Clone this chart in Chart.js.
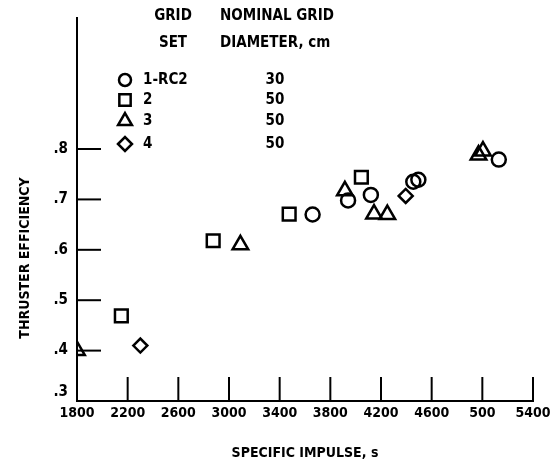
<!DOCTYPE html>
<html>
<head>
<meta charset="utf-8">
<script src="https://cdn.jsdelivr.net/npm/chart.js@4/dist/chart.umd.min.js"></script>
<style>
html, body { margin: 0; padding: 0; background: #fff; }
</style>
</head>
<body>
<canvas id="chart" width="560" height="462"></canvas>
<script>
// grid sets and their nominal diameter (cm)
const setNames = ['1-RC2', '2', '3', '4'];
const diameters = ['30', '50', '50', '50'];

// specific impulse (s) and thruster efficiency, one pair of arrays per grid set
const set1Isp = [3660, 3940, 4120, 4455, 4495, 5130];
const set1Eff = [0.670, 0.698, 0.709, 0.735, 0.739, 0.779];
const set2Isp = [2150, 2875, 3475, 4045];
const set2Eff = [0.469, 0.618, 0.671, 0.744];
const set3Isp = [1800, 3090, 3915, 4145, 4250, 4970, 5005];
const set3Eff = [0.400, 0.610, 0.717, 0.671, 0.670, 0.788, 0.796];
const set4Isp = [2300, 4395];
const set4Eff = [0.410, 0.707];

const xTicks = [1800, 2200, 2600, 3000, 3400, 3800, 4200, 4600, 5000, 5400];
const xTickLabels = ['1800', '2200', '2600', '3000', '3400', '3800', '4200', '4600', '500', '5400'];
const yTicks = [0.3, 0.4, 0.5, 0.6, 0.7, 0.8];
const yTickLabels = ['.3', '.4', '.5', '.6', '.7', '.8'];

const FONT = "'DejaVu Sans Condensed', 'Liberation Sans Narrow', 'DejaVu Sans', sans-serif";
const styles = ['circle', 'rect', 'triangle', 'rectRot'];
const radii = [7, 9, 9, 7];
const legendRadii = [6, 8, 8, 7];

const pts = (xs, ys) => xs.map((x, i) => ({ x: x, y: ys[i] }));
const allData = [pts(set1Isp, set1Eff), pts(set2Isp, set2Eff), pts(set3Isp, set3Eff), pts(set4Isp, set4Eff)];

const decor = {
  id: 'decor',
  beforeDatasetsDraw(chart) {
    const { ctx, scales: { x, y } } = chart;
    ctx.save();
    ctx.strokeStyle = '#000';
    ctx.lineWidth = 2;
    // ticks point inward
    xTicks.slice(1).forEach(v => {
      const px = x.getPixelForValue(v);
      ctx.beginPath(); ctx.moveTo(px, y.bottom); ctx.lineTo(px, y.bottom - 24); ctx.stroke();
    });
    yTicks.slice(1).forEach(v => {
      const py = y.getPixelForValue(v);
      ctx.beginPath(); ctx.moveTo(x.left, py); ctx.lineTo(x.left + 24, py); ctx.stroke();
    });
    ctx.restore();
  },
  afterDraw(chart) {
    const ctx = chart.ctx;
    ctx.save();
    ctx.fillStyle = '#000';
    ctx.font = 'bold 14px ' + FONT;
    ctx.textBaseline = 'middle';

    // y title
    ctx.save();
    ctx.translate(25, 258);
    ctx.rotate(-Math.PI / 2);
    ctx.textAlign = 'center';
    ctx.fillText('THRUSTER EFFICIENCY', 0, 0);
    ctx.restore();

    // legend block
    ctx.font = 'bold 15px ' + FONT;
    ctx.textAlign = 'center';
    ctx.fillText('GRID', 173, 16);
    ctx.fillText('SET', 173, 43);
    ctx.textAlign = 'left';
    ctx.fillText('NOMINAL GRID', 220, 16);
    ctx.fillText('DIAMETER, cm', 220, 43);
    const rowY = [80, 100, 121, 144];
    setNames.forEach((name, i) => {
      ctx.fillStyle = '#fff';
      ctx.strokeStyle = '#000';
      ctx.lineWidth = 2.5;
      Chart.helpers.drawPoint(ctx, { pointStyle: styles[i], radius: legendRadii[i], borderWidth: 2.5, rotation: 0 }, 125, rowY[i]);
      ctx.fillStyle = '#000';
      ctx.textAlign = 'left';
      ctx.fillText(name, 143, rowY[i]);
      ctx.textAlign = 'center';
      ctx.fillText(diameters[i], 275, rowY[i]);
    });
    ctx.restore();
  }
};

new Chart(document.getElementById('chart'), {
  type: 'scatter',
  data: {
    datasets: allData.map((d, i) => ({
      label: setNames[i],
      data: d,
      pointStyle: styles[i],
      pointRadius: radii[i],
      pointBorderWidth: 2.5,
      borderColor: '#000',
      backgroundColor: 'rgba(0,0,0,0)',
      pointBackgroundColor: 'rgba(0,0,0,0)'
    }))
  },
  options: {
    responsive: false,
    animation: false,
    layout: { padding: { top: 13, right: 27, left: 0, bottom: 0 } },
    plugins: { legend: { display: false }, tooltip: { enabled: false } },
    scales: {
      x: {
        type: 'linear',
        min: 1800,
        max: 5400,
        afterFit: s => { s.height = 61; },
        afterBuildTicks: s => { s.ticks = xTicks.map(v => ({ value: v })); },
        grid: { display: false, drawTicks: false },
        border: { display: true, color: '#000', width: 2 },
        ticks: {
          autoSkip: false, maxRotation: 0, padding: 4, color: '#000',
          font: { family: FONT, size: 14, weight: 'bold' },
          callback: (v, i) => xTickLabels[i]
        },
        title: {
          display: true, text: 'SPECIFIC IMPULSE, s', color: '#000',
          font: { family: FONT, size: 14, weight: 'bold' }, padding: { top: 27, bottom: 0 }
        }
      },
      y: {
        type: 'linear',
        min: 0.3,
        max: 1.06,
        afterFit: s => { s.width = 77; },
        afterBuildTicks: s => { s.ticks = yTicks.map(v => ({ value: v })); },
        grid: { display: false, drawTicks: false },
        border: { display: true, color: '#000', width: 2 },
        ticks: {
          padding: 9, color: '#000',
          font: { family: FONT, size: 15, weight: 'bold' },
          callback: (v, i) => i === 0 ? [yTickLabels[i], ''] : yTickLabels[i]
        }
      }
    }
  },
  plugins: [decor]
});
</script>
</body>
</html>
